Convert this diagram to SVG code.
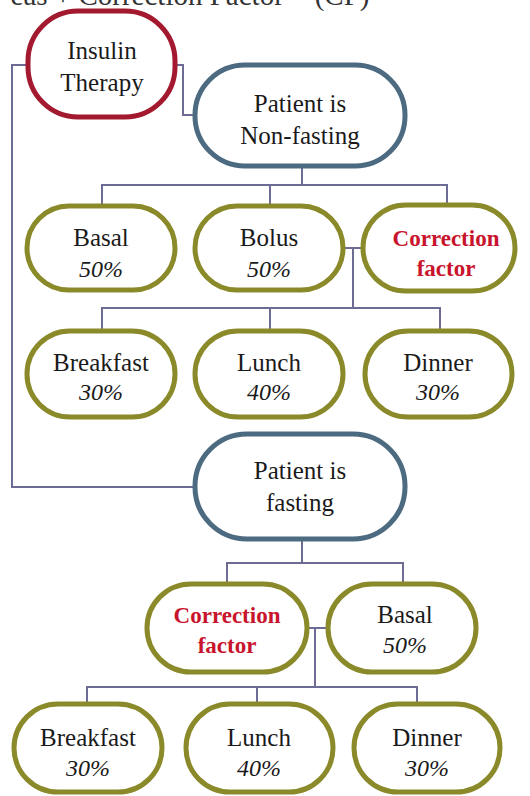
<svg xmlns="http://www.w3.org/2000/svg" width="530" height="796" viewBox="0 0 530 796">
<rect width="530" height="796" fill="#fff"/>
<text x="190" y="5" font-family="Liberation Serif" font-size="29" fill="#333" text-anchor="middle">eas + Correction Factor = (CF)</text>
<g id="connectors" fill="none" stroke="#6c6c94" stroke-width="2">
<path d="M30 65H12V487H195"/>
<path d="M173 65H183V115H195"/>
<path d="M302 166V185M102 205V185H447V205M270 185V205"/>
<path d="M343 248H363M353 248V308M102 330V308H440V330M270 308V330"/>
<path d="M302 540V563M227 583V563H403V583"/>
<path d="M308 628H327M315 628V687M87 703V687H417V703M257 687V703"/>
</g>
<g id="insulin">
<rect x="28" y="11" width="147" height="106" rx="50" fill="#fff" stroke="#a3192f" stroke-width="5"/>
<text x="102" y="59" font-family="Liberation Serif" font-size="25" fill="#1a1a1a" text-anchor="middle">Insulin</text>
<text x="102" y="91" font-family="Liberation Serif" font-size="25" fill="#1a1a1a" text-anchor="middle">Therapy</text>
</g>
<g id="nonfasting">
<rect x="195" y="65" width="210" height="101" rx="50" fill="#fff" stroke="#4c6a80" stroke-width="5"/>
<text x="300" y="112" font-family="Liberation Serif" font-size="25" fill="#1a1a1a" text-anchor="middle">Patient is</text>
<text x="300" y="144" font-family="Liberation Serif" font-size="25" fill="#1a1a1a" text-anchor="middle">Non-fasting</text>
</g>
<g id="basal1">
<rect x="27" y="206" width="148" height="84" rx="42" fill="#fff" stroke="#8a8a2a" stroke-width="5"/>
<text x="101" y="246" font-family="Liberation Serif" font-size="25" fill="#1a1a1a" text-anchor="middle">Basal</text>
<text x="101" y="277" font-family="Liberation Serif" font-size="24" font-style="italic" fill="#1a1a1a" text-anchor="middle">50%</text>
</g>
<g id="bolus">
<rect x="195" y="206" width="148" height="84" rx="42" fill="#fff" stroke="#8a8a2a" stroke-width="5"/>
<text x="269" y="246" font-family="Liberation Serif" font-size="25" fill="#1a1a1a" text-anchor="middle">Bolus</text>
<text x="269" y="277" font-family="Liberation Serif" font-size="24" font-style="italic" fill="#1a1a1a" text-anchor="middle">50%</text>
</g>
<g id="cf1">
<rect x="363" y="205" width="152" height="86" rx="43" fill="#fff" stroke="#8a8a2a" stroke-width="5"/>
<text x="446" y="246" font-family="Liberation Serif" font-size="23" font-weight="bold" fill="#c8142c" text-anchor="middle">Correction</text>
<text x="446" y="276" font-family="Liberation Serif" font-size="23" font-weight="bold" fill="#c8142c" text-anchor="middle">factor</text>
</g>
<g id="breakfast1">
<rect x="27" y="331" width="148" height="86" rx="43" fill="#fff" stroke="#8a8a2a" stroke-width="5"/>
<text x="101" y="371" font-family="Liberation Serif" font-size="25" fill="#1a1a1a" text-anchor="middle">Breakfast</text>
<text x="101" y="400" font-family="Liberation Serif" font-size="24" font-style="italic" fill="#1a1a1a" text-anchor="middle">30%</text>
</g>
<g id="lunch1">
<rect x="195" y="331" width="148" height="86" rx="43" fill="#fff" stroke="#8a8a2a" stroke-width="5"/>
<text x="269" y="371" font-family="Liberation Serif" font-size="25" fill="#1a1a1a" text-anchor="middle">Lunch</text>
<text x="269" y="400" font-family="Liberation Serif" font-size="24" font-style="italic" fill="#1a1a1a" text-anchor="middle">40%</text>
</g>
<g id="dinner1">
<rect x="365" y="331" width="147" height="86" rx="43" fill="#fff" stroke="#8a8a2a" stroke-width="5"/>
<text x="438" y="371" font-family="Liberation Serif" font-size="25" fill="#1a1a1a" text-anchor="middle">Dinner</text>
<text x="438" y="400" font-family="Liberation Serif" font-size="24" font-style="italic" fill="#1a1a1a" text-anchor="middle">30%</text>
</g>
<g id="fasting">
<rect x="195" y="434" width="210" height="105" rx="52" fill="#fff" stroke="#4c6a80" stroke-width="5"/>
<text x="300" y="479" font-family="Liberation Serif" font-size="25" fill="#1a1a1a" text-anchor="middle">Patient is</text>
<text x="300" y="511" font-family="Liberation Serif" font-size="25" fill="#1a1a1a" text-anchor="middle">fasting</text>
</g>
<g id="cf2">
<rect x="147" y="584" width="160" height="88" rx="44" fill="#fff" stroke="#8a8a2a" stroke-width="5"/>
<text x="227" y="623" font-family="Liberation Serif" font-size="23" font-weight="bold" fill="#c8142c" text-anchor="middle">Correction</text>
<text x="227" y="653" font-family="Liberation Serif" font-size="23" font-weight="bold" fill="#c8142c" text-anchor="middle">factor</text>
</g>
<g id="basal2">
<rect x="328" y="584" width="148" height="88" rx="44" fill="#fff" stroke="#8a8a2a" stroke-width="5"/>
<text x="405" y="623" font-family="Liberation Serif" font-size="25" fill="#1a1a1a" text-anchor="middle">Basal</text>
<text x="405" y="653" font-family="Liberation Serif" font-size="24" font-style="italic" fill="#1a1a1a" text-anchor="middle">50%</text>
</g>
<g id="breakfast2">
<rect x="14" y="704" width="148" height="88" rx="44" fill="#fff" stroke="#8a8a2a" stroke-width="5"/>
<text x="88" y="746" font-family="Liberation Serif" font-size="25" fill="#1a1a1a" text-anchor="middle">Breakfast</text>
<text x="88" y="776" font-family="Liberation Serif" font-size="24" font-style="italic" fill="#1a1a1a" text-anchor="middle">30%</text>
</g>
<g id="lunch2">
<rect x="186" y="704" width="147" height="88" rx="44" fill="#fff" stroke="#8a8a2a" stroke-width="5"/>
<text x="259" y="746" font-family="Liberation Serif" font-size="25" fill="#1a1a1a" text-anchor="middle">Lunch</text>
<text x="259" y="776" font-family="Liberation Serif" font-size="24" font-style="italic" fill="#1a1a1a" text-anchor="middle">40%</text>
</g>
<g id="dinner2">
<rect x="354" y="704" width="146" height="88" rx="44" fill="#fff" stroke="#8a8a2a" stroke-width="5"/>
<text x="427" y="746" font-family="Liberation Serif" font-size="25" fill="#1a1a1a" text-anchor="middle">Dinner</text>
<text x="427" y="776" font-family="Liberation Serif" font-size="24" font-style="italic" fill="#1a1a1a" text-anchor="middle">30%</text>
</g>
</svg>
